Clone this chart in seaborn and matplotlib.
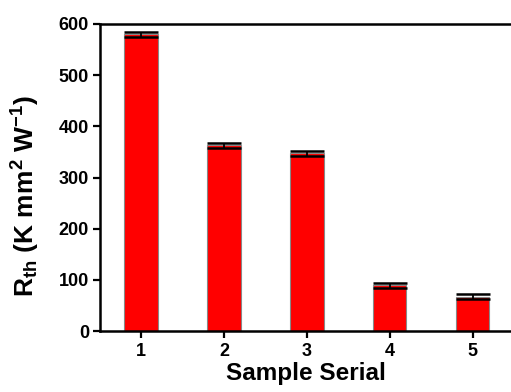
import numpy as np
import pandas as pd
import matplotlib
matplotlib.use("Agg")
import matplotlib.pyplot as plt
import seaborn as sns

# values
samples = ["1", "2", "3", "4", "5"]
rth = [580, 363, 347, 89, 67]
rth_err = [5, 4.5, 4.5, 5, 4.5]

sns.set_style("ticks")
plt.rcParams["font.family"] = ["Liberation Sans", "DejaVu Sans"]
plt.rcParams["font.weight"] = "bold"
plt.rcParams["mathtext.default"] = "regular"
plt.rcParams["text.color"] = "black"
plt.rcParams["axes.labelcolor"] = "black"

df = pd.DataFrame({"sample": samples, "rth": rth, "err": rth_err})

fig = plt.figure(figsize=(5.11, 3.92), dpi=100)
ax = fig.add_axes([100 / 511, 61 / 392, 411 / 511, 307 / 392])

sns.barplot(data=df, x="sample", y="rth", color="#ff0000", saturation=1,
            width=0.4, edgecolor="#888888", linewidth=0.8, errorbar=None, ax=ax)
ax.errorbar(np.arange(len(samples)), df["rth"], yerr=df["err"], fmt="none",
            ecolor="black", elinewidth=1.3, capsize=12, capthick=1.8, zorder=5)

ax.set_ylim(0, 600)
ax.set_yticks(range(0, 601, 100))
ax.set_xlim(-0.494, 4.46)

for s in ["left", "bottom", "top"]:
    ax.spines[s].set_linewidth(1.8)
    ax.spines[s].set_color("black")
ax.spines["right"].set_visible(False)
ax.tick_params(axis="both", direction="out", length=5, width=1.6,
               labelsize=13, colors="black", labelcolor="black", pad=3)
ax.tick_params(axis="x", pad=4)
for lab in ax.get_xticklabels() + ax.get_yticklabels():
    lab.set_fontweight("bold")

ax.set_xlabel("Sample Serial", fontsize=17.5, fontweight="bold", labelpad=1, color="black")
ax.set_ylabel("R$_{th}$ (K mm$^{2}$ W$^{-1}$)", fontsize=19, fontweight="bold", color="black")
ax.yaxis.set_label_coords(-0.14, 0.44)

fig.savefig("out.png", dpi=100)
